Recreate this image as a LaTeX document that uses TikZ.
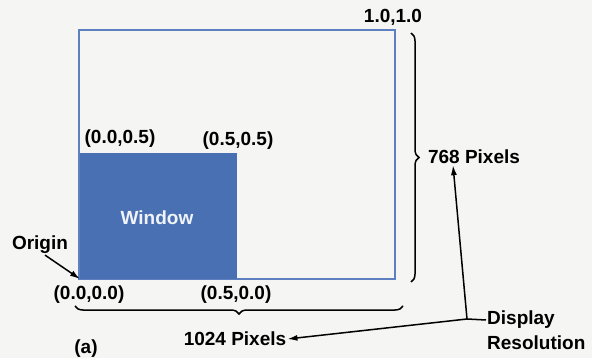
\documentclass[tikz,border=0pt]{standalone}
\usepackage{fontspec}
\setmainfont{Liberation Sans}
\usetikzlibrary{arrows.meta,decorations.pathreplacing}
\definecolor{bgc}{HTML}{F5F5F3}
\definecolor{winblue}{HTML}{4A70B4}
\definecolor{frameblue}{HTML}{5F80C0}
\tikzset{
  lbl/.style={inner sep=1pt, font=\bfseries\fontsize{19}{23}\selectfont},
  arr/.style={line width=1.5pt, -{Latex[length=10pt,width=6pt]}},
  brc/.style={line width=1.5pt, decorate, decoration={brace, amplitude=8pt}},
}
\begin{document}
\begin{tikzpicture}[x=1pt,y=-1pt]
\useasboundingbox (0,0) rectangle (592,358);
\fill[bgc] (0,0) rectangle (592,358);
% screen frame
\node[draw=frameblue, line width=1.2pt, minimum width=316pt, minimum height=249pt, anchor=north west, inner sep=0pt, outer sep=0pt] (screen) at (79,30) {};
% window
\node[fill=winblue, minimum width=157pt, minimum height=126pt, anchor=south west, inner sep=0pt, outer sep=0pt] (win) at (80,279) {};
\node[lbl, text=white!92!winblue] (wtxt) at (157,218) {Window};
% corner labels
\node[lbl] (c11) at (393,17) {1.0,1.0};
\node[lbl] (c005) at (120,139) {(0.0,0.5)};
\node[lbl] (c55) at (238,141) {(0.5,0.5)};
\node[lbl] (c00) at (89,295) {(0.0,0.0)};
\node[lbl] (c50) at (236,295) {(0.5,0.0)};
\node[lbl] (origin) at (40,245) {Origin};
\node[lbl] (a) at (86,349) {(a)};
% pixel labels
\node[lbl] (p768) at (474,157) {768 Pixels};
\node[lbl] (p1024) at (235,339) {1024 Pixels};
\node[lbl, anchor=west] (disp) at (486,320) {Display};
\node[lbl, anchor=west] (res) at (486,343) {Resolution};
% braces
\coordinate (bt) at (411,33);
\coordinate (bb) at (411,282);
\draw[brc] (bt) -- (bb);
\coordinate (hl) at (75,306);
\coordinate (hr) at (403,306);
\draw[brc] (hr) -- (hl);
% arrows
\draw[arr] ([xshift=5pt]origin.south) -- (win.south west);
\coordinate (j) at (467,319);
\draw[line width=1.5pt] (disp.west) -- (j);
\draw[arr] (j) -- ([xshift=-21pt]p768.south);
\draw[arr] (j) -- (p1024.east);
\end{tikzpicture}
\end{document}
